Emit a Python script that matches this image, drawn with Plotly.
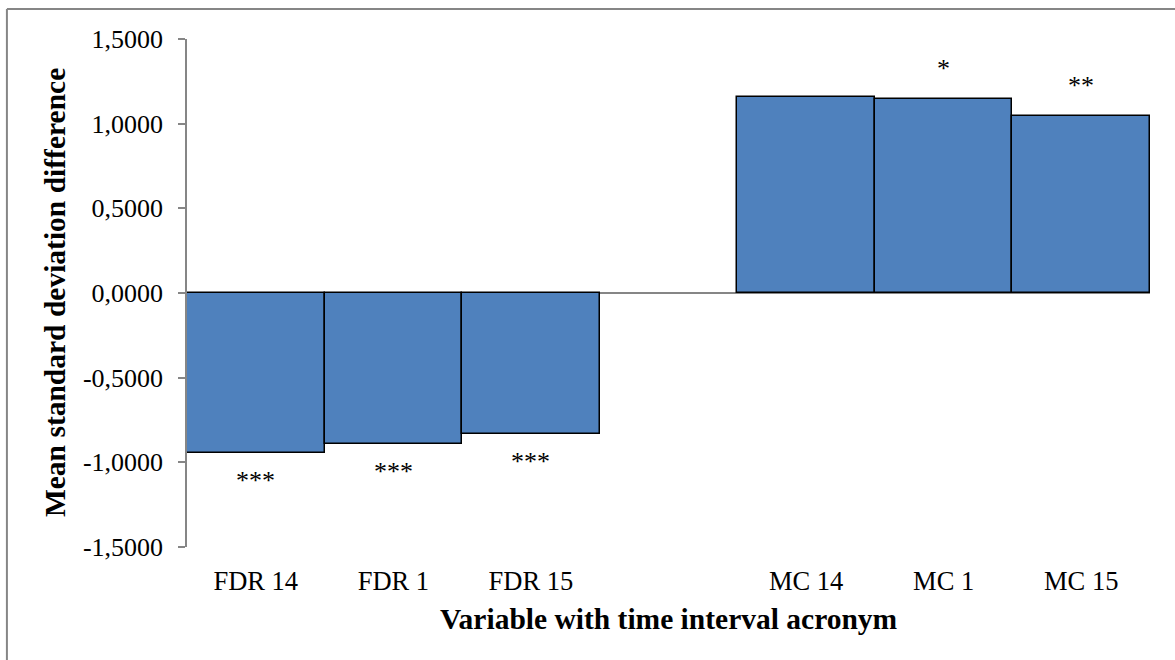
import plotly.graph_objects as go

# Categories (an empty slot separates the two variable groups)
categories = ["FDR 14", "FDR 1", "FDR 15", "", "MC 14", "MC 1", "MC 15"]
values = [-0.947, -0.894, -0.835, None, 1.160, 1.147, 1.048]
significance = ["***", "***", "***", "", "", "*", "**"]
y_ticks = [-1.5, -1.0, -0.5, 0.0, 0.5, 1.0, 1.5]
y_tick_text = ["-1,5000", "-1,0000", "-0,5000", "0,0000", "0,5000", "1,0000", "1,5000"]

positions = list(range(len(categories)))
bar_x = [p for p, v in zip(positions, values) if v is not None]
bar_y = [v for v in values if v is not None]

FONT = "Liberation Serif, Times New Roman, serif"
AXIS_GREY = "#868686"

fig = go.Figure()
fig.add_trace(go.Bar(
    x=bar_x,
    y=bar_y,
    width=1.0,
    marker=dict(color="#4F81BD", line=dict(color="black", width=1.5)),
    hoverinfo="x+y",
))

# Significance stars placed beyond the end of each bar
for p, v, s in zip(positions, values, significance):
    if v is None or not s:
        continue
    fig.add_annotation(
        x=p, y=v, text=s, showarrow=False,
        xref="x", yref="y",
        yanchor="middle",
        yshift=30 if v > 0 else -27,
        font=dict(family=FONT, size=26, color="black"),
    )

# Axis titles
fig.add_annotation(
    text="<b>Mean standard deviation difference</b>",
    xref="paper", yref="paper", x=-0.137, y=0.5,
    xanchor="center", yanchor="middle", textangle=-90, showarrow=False,
    font=dict(family=FONT, size=29.5, color="black"),
)
fig.add_annotation(
    text="<b>Variable with time interval acronym</b>",
    xref="paper", yref="paper", x=0.5, y=-0.141,
    xanchor="center", yanchor="middle", showarrow=False,
    font=dict(family=FONT, size=29.5, color="black"),
)

# Outer chart border (top and left edges visible)
fig.add_shape(type="line", xref="paper", yref="paper",
              x0=-0.187, x1=1.2, y0=1.059, y1=1.059,
              line=dict(color=AXIS_GREY, width=2))
fig.add_shape(type="line", xref="paper", yref="paper",
              x0=-0.187, x1=-0.187, y0=1.059, y1=-0.3,
              line=dict(color=AXIS_GREY, width=2))

fig.update_layout(
    width=1175, height=660,
    margin=dict(l=187, r=25, t=39, b=113),
    paper_bgcolor="white", plot_bgcolor="white",
    showlegend=False,
    bargap=0,
    font=dict(family=FONT, size=26, color="black"),
)
fig.update_xaxes(
    range=[-0.5, 6.5],
    tickmode="array", tickvals=positions, ticktext=categories,
    showgrid=False, showline=False, zeroline=False,
    ticks="outside", ticklen=10, tickcolor="rgba(0,0,0,0)",
    tickfont=dict(family=FONT, size=26.5, color="black"),
)
fig.update_yaxes(
    range=[-1.5, 1.5],
    tickmode="array", tickvals=y_ticks, ticktext=y_tick_text,
    showgrid=False,
    showline=True, linecolor=AXIS_GREY, linewidth=1.5,
    zeroline=True, zerolinecolor=AXIS_GREY, zerolinewidth=1.5,
    ticks="outside", ticklen=7, tickcolor=AXIS_GREY, tickwidth=1.5,
    ticklabelstandoff=10,
    tickfont=dict(family=FONT, size=26, color="black"),
)

fig.write_html("out.html")
